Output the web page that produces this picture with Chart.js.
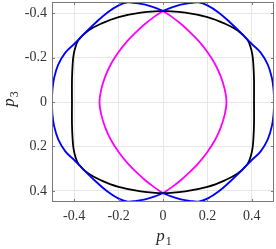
<html>
<head>
<title>p1 p3 curves</title>
<style>
  body { margin: 0; background: #fff; }
  canvas { display: block; }
</style>
<script src="https://cdn.jsdelivr.net/npm/chart.js"></script>
</head>
<body>
<canvas id="myChart" width="276" height="249"></canvas>
<script>
// tick values
const xTicks = [-0.4, -0.2, 0, 0.2, 0.4];
const yTicks = [-0.4, -0.2, 0, 0.2, 0.4];

// blue curve: left lobe, gap, right lobe
const blueX = [0, -0.04, -0.08, -0.12, -0.16, -0.2, -0.25, -0.3, -0.35, -0.4, -0.44, -0.472, -0.49, -0.498, -0.5,
  -0.498, -0.49, -0.472, -0.44, -0.4, -0.35, -0.3, -0.25, -0.2, -0.16, -0.12, -0.08, -0.04, 0,
  null,
  0, 0.04, 0.08, 0.12, 0.16, 0.2, 0.25, 0.3, 0.35, 0.4, 0.44, 0.472, 0.49, 0.498, 0.5,
  0.498, 0.49, 0.472, 0.44, 0.4, 0.35, 0.3, 0.25, 0.2, 0.16, 0.12, 0.08, 0.04, 0];
const blueY = [-0.41, -0.426, -0.438, -0.445, -0.448, -0.435, -0.403, -0.36, -0.312, -0.261, -0.222, -0.168, -0.11, -0.055, 0,
  0.055, 0.11, 0.168, 0.222, 0.261, 0.312, 0.36, 0.403, 0.435, 0.448, 0.445, 0.438, 0.426, 0.41,
  null,
  -0.41, -0.426, -0.438, -0.445, -0.448, -0.435, -0.403, -0.36, -0.312, -0.261, -0.222, -0.168, -0.11, -0.055, 0,
  0.055, 0.11, 0.168, 0.222, 0.261, 0.312, 0.36, 0.403, 0.435, 0.448, 0.445, 0.438, 0.426, 0.41];

// black curve (closed)
const blackX = [0, 0.1, 0.2, 0.28, 0.336, 0.38, 0.395, 0.403, 0.407, 0.41, 0.41, 0.41, 0.407, 0.403, 0.395, 0.38, 0.336, 0.28, 0.2, 0.1,
  0, -0.1, -0.2, -0.28, -0.336, -0.38, -0.395, -0.403, -0.407, -0.41, -0.41, -0.41, -0.407, -0.403, -0.395, -0.38, -0.336, -0.28, -0.2, -0.1, 0];
const blackY = [-0.41, -0.402, -0.382, -0.352, -0.322, -0.28, -0.245, -0.21, -0.17, -0.1, 0, 0.1, 0.17, 0.21, 0.245, 0.28, 0.322, 0.352, 0.382, 0.402,
  0.41, 0.402, 0.382, 0.352, 0.322, 0.28, 0.245, 0.21, 0.17, 0.1, 0, -0.1, -0.17, -0.21, -0.245, -0.28, -0.322, -0.352, -0.382, -0.402, -0.41];

// magenta curve: right arc, gap, left arc
const magentaX = [0, 0.04, 0.08, 0.12, 0.16, 0.2, 0.235, 0.26, 0.278, 0.286, 0.278, 0.26, 0.235, 0.2, 0.16, 0.12, 0.08, 0.04, 0,
  null,
  0, -0.04, -0.08, -0.12, -0.16, -0.2, -0.235, -0.26, -0.278, -0.286, -0.278, -0.26, -0.235, -0.2, -0.16, -0.12, -0.08, -0.04, 0];
const magentaY = [-0.41, -0.383, -0.352, -0.316, -0.275, -0.225, -0.17, -0.115, -0.057, 0, 0.057, 0.115, 0.17, 0.225, 0.275, 0.316, 0.352, 0.383, 0.41,
  null,
  -0.41, -0.383, -0.352, -0.316, -0.275, -0.225, -0.17, -0.115, -0.057, 0, 0.057, 0.115, 0.17, 0.225, 0.275, 0.316, 0.352, 0.383, 0.41];

function toPoints(xs, ys) {
  return xs.map((x, i) => ({ x: x, y: ys[i] }));
}

function fmt(v) {
  return v === 0 ? '0' : v.toFixed(1);
}

// box, inward ticks and subscripted axis titles
const boxPlugin = {
  id: 'box',
  afterDraw(chart) {
    const ctx = chart.ctx;
    const a = chart.chartArea;
    const sx = chart.scales.x, sy = chart.scales.y;
    ctx.save();
    ctx.strokeStyle = '#7a7a7a';
    ctx.lineWidth = 1;
    ctx.strokeRect(Math.round(a.left) + 0.5, Math.round(a.top) + 0.5,
      Math.round(a.right - a.left) - 1, Math.round(a.bottom - a.top) - 1);
    ctx.beginPath();
    xTicks.forEach(v => {
      const px = Math.round(sx.getPixelForValue(v)) + 0.5;
      ctx.moveTo(px, a.bottom); ctx.lineTo(px, a.bottom - 3);
      ctx.moveTo(px, a.top); ctx.lineTo(px, a.top + 3);
    });
    yTicks.forEach(v => {
      const py = Math.round(sy.getPixelForValue(v)) + 0.5;
      ctx.moveTo(a.left, py); ctx.lineTo(a.left + 3, py);
      ctx.moveTo(a.right, py); ctx.lineTo(a.right - 3, py);
    });
    ctx.stroke();

    ctx.fillStyle = '#262626';
    ctx.textBaseline = 'alphabetic';
    ctx.textAlign = 'left';
    function label(main, sub) {
      ctx.font = 'italic 17px "Liberation Serif"';
      const w1 = ctx.measureText(main).width;
      ctx.font = '12px "Liberation Serif"';
      const w2 = ctx.measureText(sub).width;
      const x0 = -(w1 + 1 + w2) / 2;
      ctx.font = 'italic 17px "Liberation Serif"';
      ctx.fillText(main, x0, 0);
      ctx.font = '12px "Liberation Serif"';
      ctx.fillText(sub, x0 + w1 + 1, 4);
    }
    ctx.save();
    ctx.translate((a.left + a.right) / 2 + 1, 241);
    label('p', '1');
    ctx.restore();
    ctx.save();
    ctx.translate(14, (a.top + a.bottom) / 2 - 3);
    ctx.rotate(-Math.PI / 2);
    label('p', '3');
    ctx.restore();
    ctx.restore();
  }
};

const tickFont = { family: 'Liberation Serif', size: 14 };

new Chart(document.getElementById('myChart'), {
  type: 'scatter',
  data: {
    datasets: [
      { data: toPoints(blueX, blueY), borderColor: '#0000ff', showLine: true },
      { data: toPoints(blackX, blackY), borderColor: '#000000', showLine: true },
      { data: toPoints(magentaX, magentaY), borderColor: '#ff00ff', showLine: true }
    ]
  },
  options: {
    responsive: false,
    animation: false,
    devicePixelRatio: 1,
    layout: { padding: { top: 2, right: 2, left: 0, bottom: 0 } },
    elements: {
      point: { radius: 0 },
      line: { borderWidth: 1.8, tension: 0.4, fill: false }
    },
    plugins: { legend: { display: false }, tooltip: { enabled: false } },
    scales: {
      x: {
        type: 'linear',
        min: -0.5,
        max: 0.5,
        afterBuildTicks: s => { s.ticks = xTicks.map(v => ({ value: v })); },
        afterFit: s => { s.height = 47; s.paddingLeft = 0; s.paddingRight = 0; },
        grid: { color: '#e6e6e6', drawTicks: false },
        border: { display: false },
        ticks: { autoSkip: false, maxRotation: 0, padding: 6, color: '#333333', font: tickFont, callback: v => fmt(v) }
      },
      y: {
        type: 'linear',
        min: -0.45,
        max: 0.45,
        reverse: true,
        afterBuildTicks: s => { s.ticks = yTicks.map(v => ({ value: v })); },
        afterFit: s => { s.width = 52; s.paddingTop = 0; s.paddingBottom = 0; },
        grid: { color: '#e6e6e6', drawTicks: false },
        border: { display: false },
        ticks: { autoSkip: false, padding: 5, color: '#333333', font: tickFont, callback: v => fmt(v) }
      }
    }
  },
  plugins: [boxPlugin]
});
</script>
</body>
</html>
